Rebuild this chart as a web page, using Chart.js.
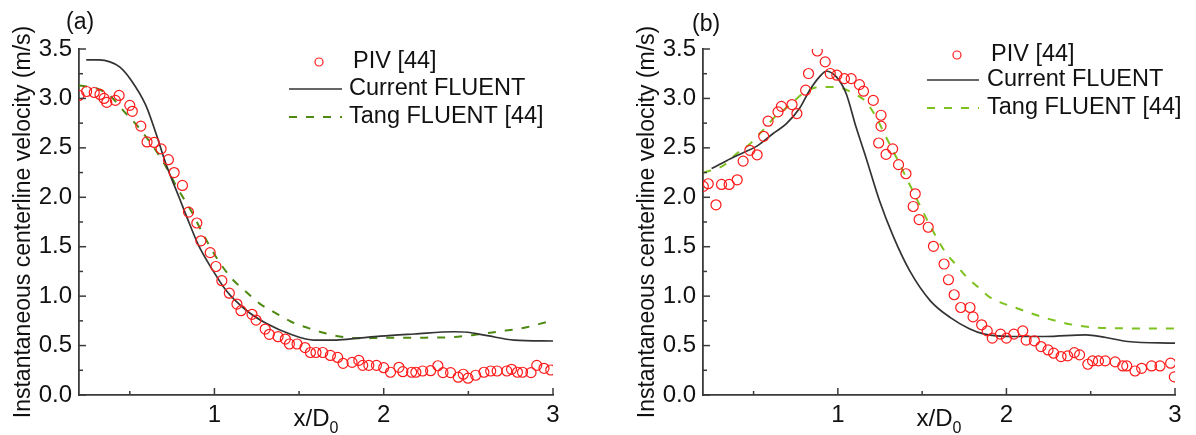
<!DOCTYPE html>
<html lang="en">
<head>
  <meta charset="UTF-8">
  <title>Instantaneous centerline velocity</title>
  <script src="https://cdn.jsdelivr.net/npm/chart.js"></script>
  <style>
    body { margin: 0; background: #fff; }
    .row { display: flex; width: 1196px; height: 435px; }
    canvas { display: block; }
  </style>
</head>
<body>
  <div class="row">
    <canvas id="panelA" width="598" height="435"></canvas>
    <canvas id="panelB" width="598" height="435"></canvas>
  </div>

  <script>
    // Axis ticks
    const xTicks = [1, 2, 3];
    const xMinor = [0.5, 1.5, 2.5];
    const yTicks = [0, 0.5, 1, 1.5, 2, 2.5, 3, 3.5];
    const yMinor = [0.25, 0.75, 1.25, 1.75, 2.25, 2.75, 3.25];
    const seriesNames = ['PIV [44]', 'Current FLUENT', 'Tang FLUENT [44]'];

    // (a) PIV measurements
    const pivAx = [0.20, 0.245, 0.29, 0.324, 0.348, 0.364, 0.415, 0.437, 0.50, 0.515, 0.565, 0.602, 0.644, 0.685, 0.728, 0.762, 0.811, 0.847, 0.896, 0.92,
      0.975, 1.009, 1.044, 1.088, 1.133, 1.157, 1.222, 1.246, 1.30, 1.324, 1.376, 1.419, 1.443, 1.488, 1.535, 1.567, 1.60, 1.64, 1.685, 1.728,
      1.76, 1.813, 1.853, 1.876, 1.912, 1.957, 2.0, 2.04, 2.09, 2.113, 2.165, 2.19, 2.23, 2.277, 2.32, 2.35, 2.395, 2.44, 2.47, 2.498,
      2.543, 2.592, 2.632, 2.67, 2.727, 2.755, 2.79, 2.82, 2.87, 2.904, 2.947, 2.987];
    const pivAv = [3.03, 3.07, 3.06, 3.04, 3.00, 2.96, 2.98, 3.03, 2.93, 2.87, 2.72, 2.56, 2.555, 2.49, 2.38, 2.25, 2.12, 1.85, 1.74, 1.56,
      1.44, 1.30, 1.156, 1.03, 0.92, 0.853, 0.816, 0.758, 0.667, 0.614, 0.59, 0.566, 0.516, 0.516, 0.48, 0.43, 0.43, 0.43, 0.40, 0.38,
      0.32, 0.33, 0.35, 0.30, 0.30, 0.30, 0.276, 0.23, 0.28, 0.236, 0.23, 0.23, 0.243, 0.246, 0.296, 0.226, 0.226, 0.18, 0.21, 0.17,
      0.20, 0.23, 0.243, 0.243, 0.243, 0.26, 0.23, 0.23, 0.226, 0.30, 0.27, 0.253];

    // (a) current simulation
    const curAx = [0.243, 0.32, 0.383, 0.44, 0.506, 0.595, 0.654, 0.713, 0.79, 0.851, 0.91, 0.989, 1.068, 1.186, 1.305, 1.462, 1.587, 1.72, 1.85, 1.98,
      2.18, 2.415, 2.494, 2.612, 2.77, 3.0];
    const curAv = [3.39, 3.39, 3.37, 3.32, 3.19, 2.93, 2.65, 2.34, 2.005, 1.74, 1.50, 1.265, 1.06, 0.86, 0.725, 0.607, 0.555, 0.556, 0.575, 0.595,
      0.617, 0.64, 0.635, 0.60, 0.556, 0.546];

    // (a) Tang simulation
    const tangAx = [0.20, 0.305, 0.38, 0.476, 0.541, 0.663, 0.733, 0.772, 0.87, 0.93, 1.028, 1.107, 1.186, 1.265, 1.364, 1.453, 1.56, 1.656, 1.764, 1.873,
      1.98, 2.178, 2.376, 2.533, 2.67, 2.83, 2.967];
    const tangAv = [3.13, 3.10, 3.03, 2.85, 2.73, 2.45, 2.25, 2.12, 1.84, 1.635, 1.348, 1.17, 1.045, 0.927, 0.826, 0.741, 0.674, 0.624, 0.585, 0.573,
      0.578, 0.58, 0.583, 0.607, 0.64, 0.68, 0.74];

    // (b) PIV measurements
    const pivBx = [0.202, 0.231, 0.277, 0.31, 0.355, 0.403, 0.438, 0.478, 0.521, 0.56, 0.586, 0.645, 0.665, 0.728, 0.757, 0.809, 0.826, 0.878, 0.925, 0.955,
      0.994, 1.039, 1.079, 1.128, 1.152, 1.21, 1.256, 1.256, 1.242, 1.286, 1.325, 1.36, 1.404, 1.459, 1.447, 1.482, 1.536, 1.567, 1.63, 1.656,
      1.69, 1.729, 1.784, 1.802, 1.853, 1.886, 1.916, 1.965, 2.0, 2.044, 2.097, 2.117, 2.166, 2.205, 2.247, 2.28, 2.324, 2.363, 2.403, 2.434,
      2.483, 2.511, 2.546, 2.586, 2.645, 2.69, 2.714, 2.763, 2.802, 2.861, 2.911, 2.974, 2.996];
    const pivBv = [2.11, 2.137, 1.924, 2.13, 2.13, 2.177, 2.366, 2.475, 2.43, 2.617, 2.77, 2.864, 2.92, 2.938, 2.847, 3.083, 3.252, 3.48, 3.37, 3.252,
      3.235, 3.20, 3.20, 3.14, 3.073, 2.98, 2.83, 2.72, 2.549, 2.434, 2.49, 2.33, 2.238, 2.035, 1.907, 1.775, 1.697, 1.504, 1.325, 1.166,
      1.014, 0.885, 0.885, 0.79, 0.71, 0.649, 0.575, 0.616, 0.575, 0.616, 0.649, 0.555, 0.548, 0.49, 0.456, 0.423, 0.389, 0.396, 0.429, 0.406,
      0.311, 0.345, 0.345, 0.345, 0.335, 0.294, 0.294, 0.243, 0.27, 0.294, 0.294, 0.322, 0.183];

    // (b) current simulation
    const curBx = [0.251, 0.34, 0.438, 0.517, 0.616, 0.695, 0.773, 0.832, 0.892, 0.931, 0.99, 1.049, 1.108, 1.167, 1.246, 1.33, 1.43, 1.55, 1.67, 1.78,
      1.87, 2.03, 2.23, 2.47, 2.59, 2.72, 3.0];
    const curBv = [2.29, 2.37, 2.45, 2.515, 2.645, 2.745, 2.90, 3.08, 3.22, 3.275, 3.22, 3.05, 2.71, 2.40, 1.97, 1.60, 1.245, 0.95, 0.78, 0.67,
      0.615, 0.592, 0.592, 0.609, 0.582, 0.541, 0.524];

    // (b) Tang simulation
    const tangBx = [0.202, 0.32, 0.399, 0.478, 0.556, 0.636, 0.714, 0.793, 0.892, 0.99, 1.088, 1.167, 1.227, 1.286, 1.345, 1.443, 1.542, 1.64, 1.70, 1.76,
      1.84, 1.90, 2.05, 2.25, 2.43, 2.63, 3.0];
    const tangBv = [2.25, 2.32, 2.44, 2.54, 2.68, 2.83, 2.93, 3.05, 3.115, 3.115, 3.055, 2.965, 2.81, 2.61, 2.41, 2.07, 1.73, 1.44, 1.32, 1.20,
      1.08, 0.99, 0.885, 0.77, 0.70, 0.676, 0.672];

    const FONT = 'Arial, "Liberation Sans", sans-serif';
    const AXIS = '#3a3a3a';
    const toPoints = (xs, vs) => xs.map((x, i) => ({ x: x, y: vs[i] }));

    // inward ticks, panel letter, x title with subscript and the legend
    const panelDecor = {
      id: 'panelDecor',
      afterDraw(chart, args, opts) {
        const { ctx, chartArea: a } = chart;
        const xs = chart.scales.x, ys = chart.scales.y;
        ctx.save();
        ctx.strokeStyle = AXIS;
        ctx.lineWidth = 1.5;
        const seg = (x1, y1, x2, y2) => { ctx.beginPath(); ctx.moveTo(x1, y1); ctx.lineTo(x2, y2); ctx.stroke(); };
        xTicks.forEach(v => { const p = xs.getPixelForValue(v); seg(p, a.bottom, p, a.bottom - 7); });
        xMinor.forEach(v => { const p = xs.getPixelForValue(v); seg(p, a.bottom, p, a.bottom - 4); });
        yTicks.forEach(v => { const p = ys.getPixelForValue(v); seg(a.left, p, a.left + 7, p); });
        yMinor.forEach(v => { const p = ys.getPixelForValue(v); seg(a.left, p, a.left + 4, p); });

        ctx.fillStyle = '#111';
        ctx.textBaseline = 'middle';
        ctx.textAlign = 'left';
        ctx.font = '23px ' + FONT;
        ctx.fillText(opts.letter, opts.letterX, opts.letterY);

        // x/D0
        ctx.textBaseline = 'alphabetic';
        const main = 'x/D';
        ctx.font = '24px ' + FONT;
        const w1 = ctx.measureText(main).width;
        ctx.font = '16px ' + FONT;
        const w2 = ctx.measureText('0').width;
        const sx = (a.left + a.right) / 2 - (w1 + w2) / 2;
        ctx.font = '24px ' + FONT;
        ctx.fillText(main, sx, 426);
        ctx.font = '16px ' + FONT;
        ctx.fillText('0', sx + w1, 433);

        // legend
        const lg = opts.legend;
        ctx.font = '23.5px ' + FONT;
        ctx.textBaseline = 'middle';
        chart.data.datasets.forEach((ds, i) => {
          const y = lg.rowY[i];
          if (ds.showLine === false) {
            ctx.strokeStyle = ds.borderColor;
            ctx.lineWidth = 1.2;
            ctx.beginPath();
            ctx.arc(lg.markerX, y, 4, 0, Math.PI * 2);
            ctx.stroke();
          } else {
            ctx.strokeStyle = ds.borderColor;
            ctx.lineWidth = ds.borderWidth;
            ctx.setLineDash(ds.borderDash || []);
            seg(lg.lineX[0], y, lg.lineX[1], y);
            ctx.setLineDash([]);
          }
          ctx.fillStyle = '#111';
          ctx.fillText(ds.label, lg.textX[i], y);
        });
        ctx.restore();
      }
    };

    function makePanel(id, series, tangColor, deco, padLeft, padRight) {
      return new Chart(document.getElementById(id), {
        type: 'line',
        data: {
          datasets: [
            {
              label: seriesNames[0],
              data: series[0],
              showLine: false,
              pointStyle: 'circle',
              pointRadius: 5,
              pointBorderWidth: 1.2,
              pointBorderColor: '#ff1a1a',
              pointBackgroundColor: 'rgba(255,255,255,0)',
              borderColor: '#ff1a1a',
              clip: 0
            },
            {
              label: seriesNames[1],
              data: series[1],
              borderColor: '#333333',
              borderWidth: 1.7,
              pointRadius: 0,
              cubicInterpolationMode: 'monotone',
              fill: false,
              clip: 0
            },
            {
              label: seriesNames[2],
              data: series[2],
              borderColor: tangColor,
              borderWidth: 2,
              borderDash: [8, 9],
              pointRadius: 0,
              cubicInterpolationMode: 'monotone',
              fill: false,
              clip: 0
            }
          ]
        },
        options: {
          responsive: false,
          animation: false,
          layout: { padding: { left: padLeft, right: padRight, top: 49, bottom: 0 } },
          plugins: {
            legend: { display: false },
            tooltip: { enabled: false },
            panelDecor: deco
          },
          scales: {
            x: {
              type: 'linear',
              min: 0.2,
              max: 3,
              grid: { display: false, drawTicks: false },
              border: { display: true, color: AXIS, width: 1.8 },
              ticks: { color: '#111', font: { family: FONT, size: 24 }, padding: 6, maxRotation: 0 },
              afterBuildTicks: s => { s.ticks = xTicks.map(v => ({ value: v })); },
              afterFit: s => { s.height = 40; }
            },
            y: {
              type: 'linear',
              min: 0,
              max: 3.5,
              grid: { display: false, drawTicks: false },
              border: { display: true, color: AXIS, width: 1.8 },
              ticks: {
                color: '#111',
                font: { family: FONT, size: 24 },
                padding: 7,
                callback: v => Number(v).toFixed(1)
              },
              afterBuildTicks: s => { s.ticks = yTicks.map(v => ({ value: v })); },
              afterFit: s => { s.width = 79; },
              title: {
                display: true,
                text: 'Instantaneous centerline velocity (m/s)',
                color: '#111',
                font: { family: FONT, size: 23 },
                padding: { top: 10, bottom: 0 }
              }
            }
          }
        },
        plugins: [panelDecor]
      });
    }

    makePanel('panelA',
      [toPoints(pivAx, pivAv), toPoints(curAx, curAv), toPoints(tangAx, tangAv)],
      '#4e8a12',
      { letter: '(a)', letterX: 66, letterY: 23,
        legend: { markerX: 319, lineX: [289, 342], textX: [353, 349, 349], rowY: [62, 89, 117] } },
      0, 45);

    makePanel('panelB',
      [toPoints(pivBx, pivBv), toPoints(curBx, curBv), toPoints(tangBx, tangBv)],
      '#7dc21f',
      { letter: '(b)', letterX: 94, letterY: 25,
        legend: { markerX: 359, lineX: [329, 381], textX: [393, 389, 389], rowY: [55, 80, 108] } },
      26, 21);
  </script>
</body>
</html>
